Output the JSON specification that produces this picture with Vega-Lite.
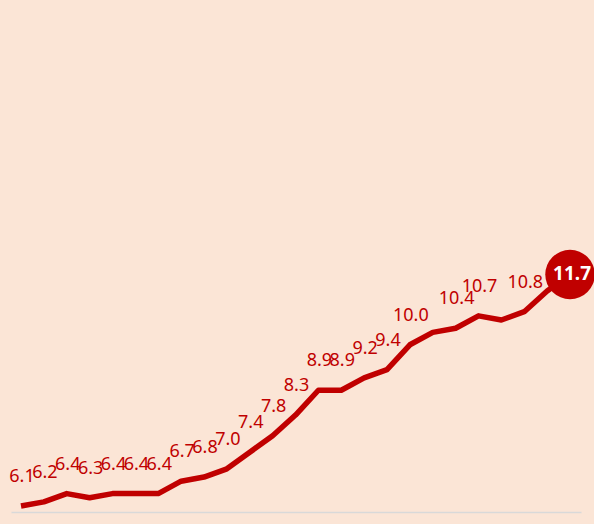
{
  "$schema": "https://vega.github.io/schema/vega-lite/v6.json",
  "width": 570,
  "height": 512,
  "autosize": "none",
  "padding": {"left": 11, "top": 0, "right": 13, "bottom": 12},
  "background": "#FBE5D6",
  "config": {"view": {"stroke": null}},
  "data": {
    "values": [
      {"i": 0, "v": 6.1, "show": true},
      {"i": 1, "v": 6.2, "show": true},
      {"i": 2, "v": 6.4, "show": true},
      {"i": 3, "v": 6.3, "show": true},
      {"i": 4, "v": 6.4, "show": true},
      {"i": 5, "v": 6.4, "show": true},
      {"i": 6, "v": 6.4, "show": true},
      {"i": 7, "v": 6.7, "show": true},
      {"i": 8, "v": 6.8, "show": true},
      {"i": 9, "v": 7.0, "show": true},
      {"i": 10, "v": 7.4, "show": true},
      {"i": 11, "v": 7.8, "show": true},
      {"i": 12, "v": 8.3, "show": true},
      {"i": 13, "v": 8.9, "show": true},
      {"i": 14, "v": 8.9, "show": true},
      {"i": 15, "v": 9.2, "show": true},
      {"i": 16, "v": 9.4, "show": true},
      {"i": 17, "v": 10.0, "show": true},
      {"i": 18, "v": 10.3, "show": false},
      {"i": 19, "v": 10.4, "show": true},
      {"i": 20, "v": 10.7, "show": true},
      {"i": 21, "v": 10.6, "show": false},
      {"i": 22, "v": 10.8, "show": true},
      {"i": 23, "v": 11.3, "show": false},
      {"i": 24, "v": 11.7, "show": false}
    ]
  },
  "encoding": {
    "x": {
      "field": "i",
      "type": "quantitative",
      "scale": {"domain": [-0.437, 24.48], "nice": false, "zero": false},
      "axis": {"labels": false, "ticks": false, "title": null, "grid": false, "domainColor": "#D9D9D9", "domainWidth": 1.5}
    },
    "y": {
      "field": "v",
      "type": "quantitative",
      "scale": {"domain": [5.955, 18.34], "nice": false, "zero": false},
      "axis": null
    }
  },
  "layer": [
    {
      "mark": {"type": "line", "color": "#C00000", "strokeWidth": 5.5, "strokeJoin": "round"}
    },
    {
      "transform": [{"filter": "datum.show"}],
      "mark": {"type": "text", "color": "#C00000", "font": "Noto Sans", "fontSize": 18, "baseline": "alphabetic", "align": "center", "dy": -24, "dx": 1},
      "encoding": {"text": {"field": "v", "type": "quantitative", "format": ".1f"}}
    },
    {
      "transform": [{"filter": "datum.i == 24"}],
      "mark": {"type": "circle", "size": 2450, "color": "#C00000", "opacity": 1}
    },
    {
      "transform": [{"filter": "datum.i == 24"}],
      "mark": {"type": "text", "color": "white", "font": "Noto Sans", "fontSize": 19, "fontWeight": "bold", "baseline": "middle", "align": "center", "dx": 2, "dy": 0},
      "encoding": {"text": {"field": "v", "type": "quantitative", "format": ".1f"}}
    }
  ]
}
